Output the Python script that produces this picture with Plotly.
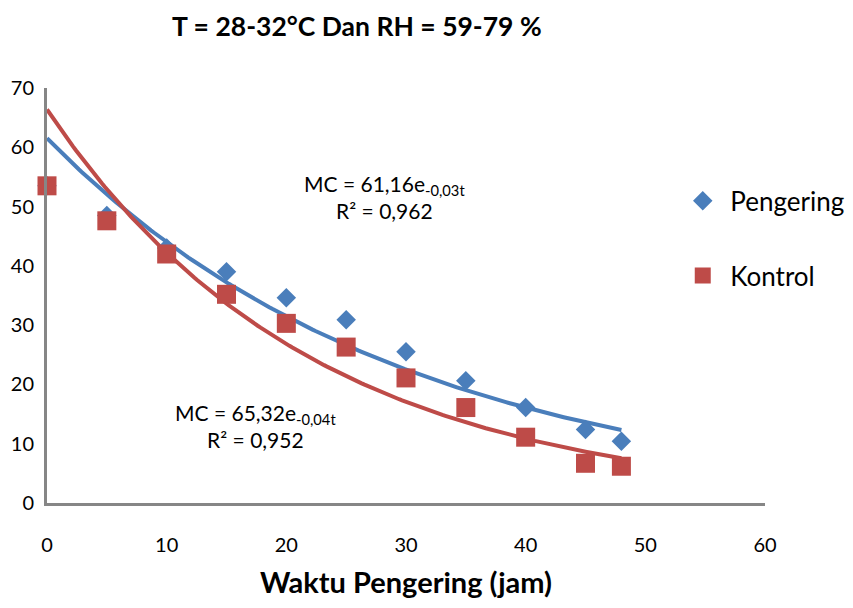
import numpy as np
import plotly.graph_objects as go

waktu = [0, 5, 10, 15, 20, 25, 30, 35, 40, 45, 48]
pengering = [53.5, 48.5, 43.0, 39.0, 34.6, 30.9, 25.5, 20.6, 16.1, 12.4, 10.4]
kontrol = [53.5, 47.6, 42.0, 35.2, 30.3, 26.3, 21.1, 16.1, 11.1, 6.7, 6.2]

title_text = "T = 28-32°C Dan RH = 59-79 %"
x_title = "Waktu Pengering (jam)"
eq_pengering = ["MC = 61,16e<sub>-0,03t</sub>", "R² = 0,962"]
eq_kontrol = ["MC = 65,32e<sub>-0,04t</sub>", "R² = 0,952"]

BLUE = "#4A7EBB"
RED = "#BE4B48"
FONT = "Lato, Carlito, Calibri, sans-serif"

def exp_fit(x, y):
    b, a = np.polyfit(np.array(x, float), np.log(np.array(y, float)), 1)
    xs = np.linspace(min(x), max(x), 200)
    return xs, np.exp(a) * np.exp(b * xs)

fig = go.Figure()
xs, ys = exp_fit(waktu, pengering)
fig.add_trace(go.Scatter(x=xs, y=ys, mode="lines", line=dict(color=BLUE, width=4),
                         showlegend=False, hoverinfo="skip", cliponaxis=False))
xs, ys = exp_fit(waktu, kontrol)
fig.add_trace(go.Scatter(x=xs, y=ys, mode="lines", line=dict(color=RED, width=4),
                         showlegend=False, hoverinfo="skip", cliponaxis=False))
fig.add_trace(go.Scatter(x=waktu, y=pengering, mode="markers", name="Pengering",
                         legendgroup="a", cliponaxis=False,
                         marker=dict(symbol="diamond", size=15, color=BLUE)))
fig.add_trace(go.Scatter(x=waktu, y=kontrol, mode="markers", name="Kontrol",
                         legendgroup="b", cliponaxis=False,
                         marker=dict(symbol="square", size=19, color=RED)))

fig.add_annotation(x=0.470, y=0.737, xref="paper", yref="paper",
                   xanchor="center", yanchor="middle",
                   text=eq_pengering[0] + "<br>" + eq_pengering[1],
                   showarrow=False, font=dict(size=21, color="black", family=FONT),
                   align="center")
fig.add_annotation(x=0.29, y=0.186, xref="paper", yref="paper",
                   xanchor="center", yanchor="middle",
                   text=eq_kontrol[0] + "<br>" + eq_kontrol[1],
                   showarrow=False, font=dict(size=21, color="black", family=FONT),
                   align="center")

fig.update_layout(
    width=853, height=608,
    margin=dict(l=39, r=93, t=80, b=113),
    paper_bgcolor="white", plot_bgcolor="white",
    font=dict(family=FONT, color="black", size=20),
    title=dict(text="<b>" + title_text + "</b>", x=0.409, xanchor="center",
               y=0.969, yanchor="middle", font=dict(size=26.5, family=FONT)),
    legend=dict(x=0.875, y=0.785, xanchor="left", yanchor="top",
                font=dict(size=26, family=FONT), tracegroupgap=38,
                itemwidth=45, borderwidth=0,
                traceorder="grouped", bgcolor="rgba(0,0,0,0)"),
    xaxis=dict(range=[0, 60], tickvals=[0, 10, 20, 30, 40, 50, 60],
               showgrid=False, zeroline=False, showline=True, linecolor="#868686",
               linewidth=3, ticks="", ticklabelstandoff=22, automargin=False,
               title=dict(text="<b>" + x_title + "</b>", font=dict(size=29), standoff=18)),
    yaxis=dict(range=[0, 70], tickvals=[0, 10, 20, 30, 40, 50, 60, 70],
               showgrid=False, zeroline=False, showline=True, linecolor="#868686",
               linewidth=3, ticks="", ticklabelstandoff=6, automargin=False),
)

fig.write_html("out.html")
